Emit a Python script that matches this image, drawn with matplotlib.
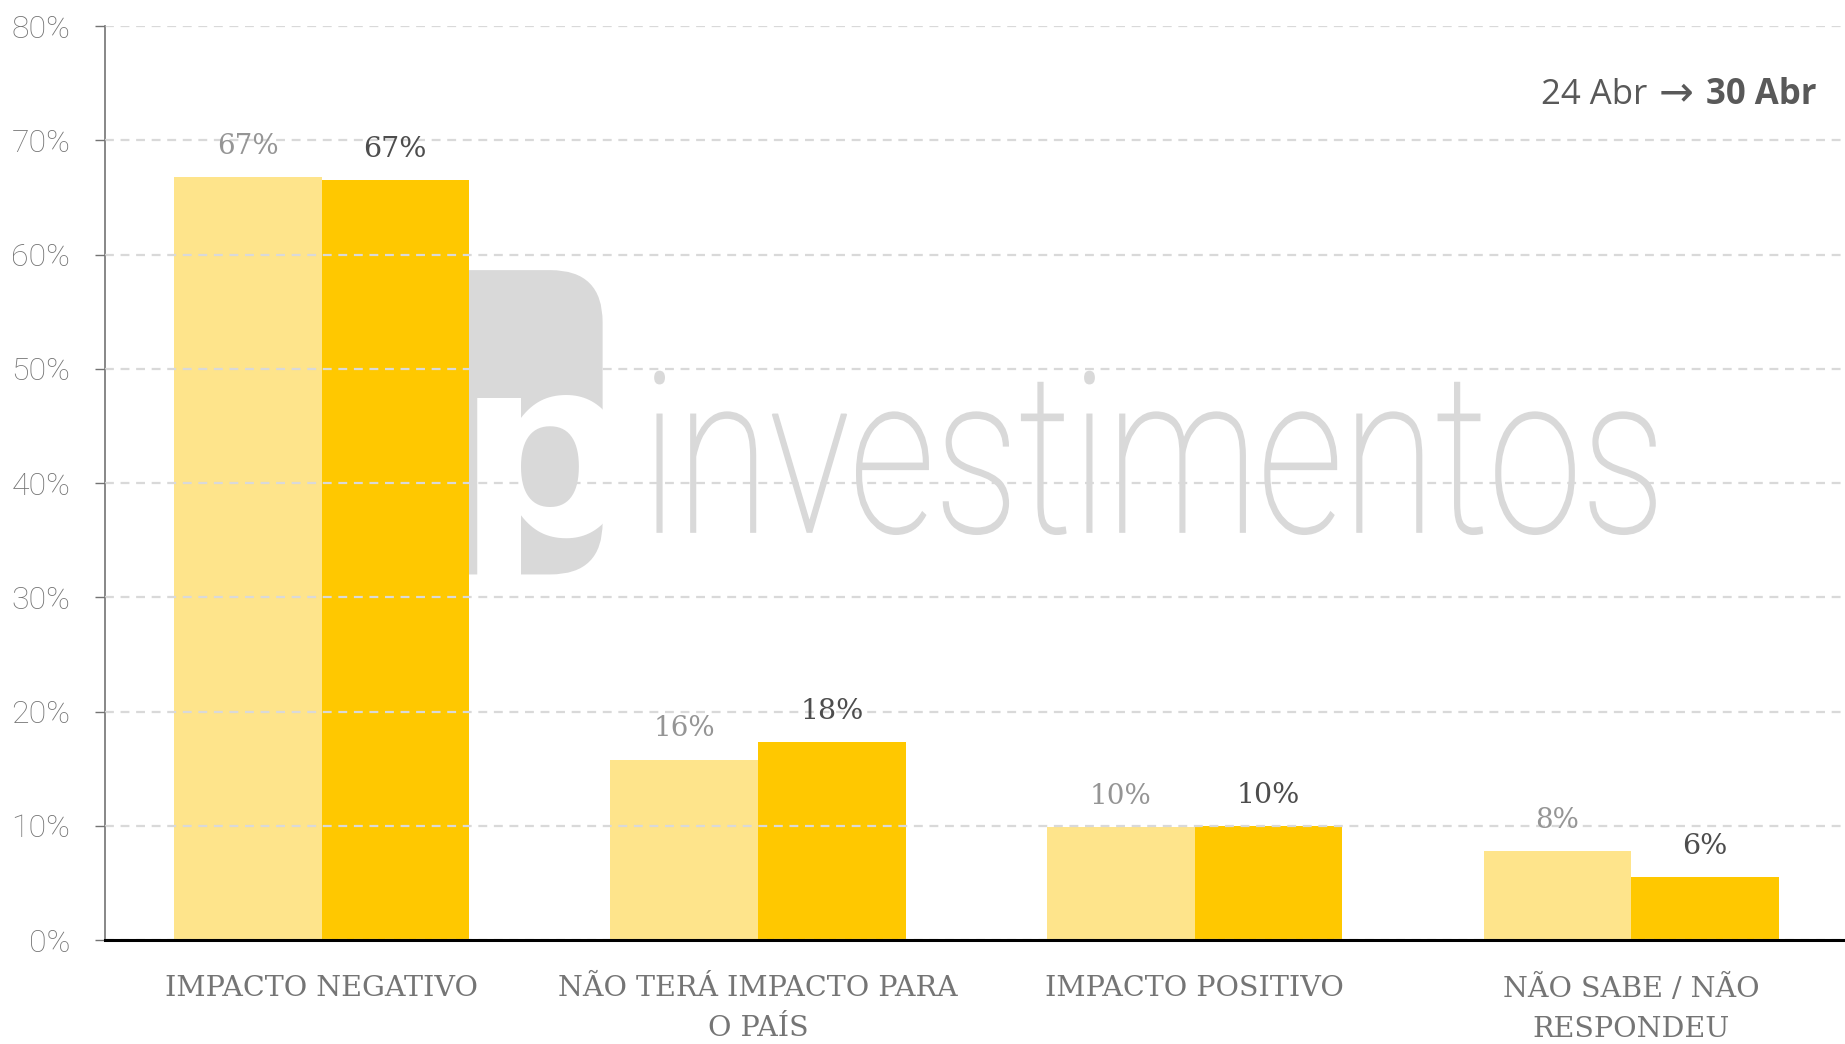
import numpy as np
import matplotlib.pyplot as plt
from matplotlib.patches import FancyBboxPatch, PathPatch
from matplotlib.textpath import TextPath
from matplotlib.font_manager import FontProperties
from matplotlib.transforms import Affine2D
from matplotlib.ticker import FuncFormatter, MultipleLocator

# data
categories = ["IMPACTO NEGATIVO", "NÃO TERÁ IMPACTO PARA\nO PAÍS",
              "IMPACTO POSITIVO", "NÃO SABE / NÃO\nRESPONDEU"]
abr24 = [66.8, 15.8, 9.9, 7.8]
abr30 = [66.5, 17.3, 10.0, 5.5]
labels24 = ["67%", "16%", "10%", "8%"]
labels30 = ["67%", "18%", "10%", "6%"]

light = "#FEE48B"
dark = "#FFC800"
grey = "#737373"
slab = ["DejaVu Serif"]
sans = ["Open Sans", "DejaVu Sans"]

fig = plt.figure(figsize=(18.45, 10.44), dpi=100)
ax = fig.add_axes([0.0569, 0.0996, 0.9431, 0.8754])

# watermark (xp logo + text), behind grid and bars
box = FancyBboxPatch((0.111, 0.40), 0.175, 0.333,
                     boxstyle="round,pad=0,rounding_size=0.03",
                     transform=ax.transAxes, fc="#d9d9d9", ec="none",
                     zorder=0, mutation_aspect=1.9)
ax.add_patch(box)
xp = ax.text(0.305, 0.443, "xp", transform=ax.transAxes, color="white",
             fontsize=180, fontweight="bold", family="DejaVu Sans",
             ha="right", va="baseline", zorder=0.5)
xp.set_clip_path(box)

# "investimentos" squeezed to the logo's proportions (inches on the figure)
tp = TextPath((0, 0), "investimentos", size=1,
              prop=FontProperties(family="Roboto", weight=100))
ext = tp.get_extents()
sx = 10.0 / ext.width
sy = 1.18 / 0.53
wm = PathPatch(tp, fc="#d9d9d9", ec="#d9d9d9", lw=1.2, zorder=0.5,
               transform=Affine2D().scale(sx, sy)
               .translate(6.55 - ext.x0 * sx, 5.12) + fig.dpi_scale_trans)
ax.add_patch(wm)

x = np.arange(len(categories))
w = 0.338
ax.bar(x - w / 2, abr24, w, color=light, zorder=2)
ax.bar(x + w / 2, abr30, w, color=dark, zorder=2)

for xi, v, t in zip(x, abr24, labels24):
    ax.annotate(t, (xi - w / 2, v), xytext=(0, 22), textcoords="offset points",
                ha="center", va="center", fontsize=20, color="#959595",
                family=slab)
for xi, v, t in zip(x, abr30, labels30):
    ax.annotate(t, (xi + w / 2, v), xytext=(0, 22), textcoords="offset points",
                ha="center", va="center", fontsize=20.5, color="#4d4d4d",
                family=slab)

ax.set_xlim(-0.496, 3.49)
ax.set_ylim(0, 80)
ax.yaxis.set_major_locator(MultipleLocator(10))
ax.yaxis.set_major_formatter(FuncFormatter(lambda v, p: f"{v:.0f}%"))
ax.grid(axis="y", color="#d9d9d9", linestyle=(0, (4, 3)), linewidth=1.6, zorder=1)
ax.set_axisbelow(False)

ax.set_xticks(x)
ax.set_xticklabels(categories, family=slab, fontsize=20.5, color="#757575",
                   linespacing=1.65)
ax.tick_params(axis="x", length=0, pad=25)
ax.tick_params(axis="y", length=7, width=1, color=grey, pad=18,
               labelsize=23, labelcolor=grey)
for lbl in ax.get_yticklabels():
    lbl.set_family("Roboto")
    lbl.set_fontweight("light")

for s in ["top", "right"]:
    ax.spines[s].set_visible(False)
ax.spines["left"].set_color(grey)
ax.spines["left"].set_linewidth(1.2)
ax.spines["bottom"].set_color("black")
ax.spines["bottom"].set_linewidth(2.2)
ax.spines["bottom"].set_zorder(3)

# period note, top right
t30 = fig.text(0.9845, 0.909, "30 Abr", ha="right", va="center", fontsize=25,
               fontweight="bold", color="#595959", family=sans)
fig.canvas.draw()
bb = t30.get_window_extent()
arr = fig.text((bb.x0 - 12) / fig.bbox.width, 0.911, "\u2192", ha="right",
               va="center", fontsize=30, color="#595959", family="DejaVu Sans")
fig.canvas.draw()
ba = arr.get_window_extent()
fig.text((ba.x0 - 12) / fig.bbox.width, 0.909, "24 Abr", ha="right",
         va="center", fontsize=25, color="#595959", family=sans)

fig.savefig("out.png", dpi=100)
